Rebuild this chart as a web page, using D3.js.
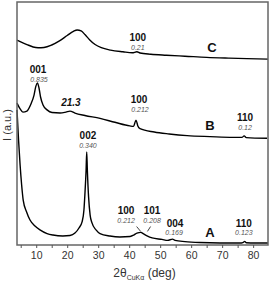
<!DOCTYPE html>
<meta charset="utf-8">
<html>
<head>
  <style>
  body { margin: 0; background: #fff; }
  text { font-family: Arial, "Liberation Sans", sans-serif; }
  text.hkl { font-size: 10px; font-weight: bold; fill: #111; }
  text.dsp { font-size: 7px; font-style: italic; fill: #555; }
  text.tag { font-size: 13px; font-weight: bold; fill: #111; }
  .axis text { font-size: 10.5px; fill: #333; }
  .axis path, .axis line { stroke: #555; }
  </style>
  <script src="https://d3js.org/d3.v7.min.js"></script>
</head>
<body>
<div id="chart"></div>
<script>
// 2theta (deg) / intensity (a.u.) for the three samples
var curveC = [[3.8,84.3],[5,83.6],[7,82.5],[9,81.5],[10.6,81.2],[12.5,81.3],[15,82.3],[17.5,84],[20,86.2],[22,87.9],[23.2,88.5],[24.5,88.1],[25.8,86.5],[27.2,84.5],[29,82.5],[31,81.2],[34,80.2],[38,79.5],[41,79.1],[42.5,79.5],[43.5,79],[47,78.5],[52,78.1],[58,77.7],[65,77.2],[72,76.9],[78,76.7],[84.8,76.5]];
var curveB = [[3.8,58.4],[4.8,56],[5.7,54.7],[7,55.1],[8.3,58],[9.3,61.7],[9.9,65.4],[10.4,66.7],[10.9,64.6],[11.4,60.9],[12.2,57.6],[13.5,55.6],[15.1,54.5],[17.7,54.3],[19.6,54.7],[20.9,55.1],[22.5,54.3],[25.7,53.3],[30.6,52.1],[35.4,50.5],[40.2,49],[41.4,48.8],[42.2,51.4],[42.8,49],[43.5,47.9],[48.1,46.5],[52.9,45.7],[58.7,45],[66.1,44.6],[73.5,44.3],[76.4,44.3],[77.1,44.9],[77.8,44.2],[84.5,43.9]];
var curveA = [[3.8,55.6],[4.3,43.2],[4.8,32.9],[5.3,24.7],[5.8,18.5],[6.9,13.6],[8,10.3],[9.6,7.8],[11.2,6.2],[13.5,4.7],[15.4,4.1],[18.6,3.7],[20.9,3.9],[22.5,4.9],[23.8,7],[24.8,9.5],[25.4,14.4],[25.7,20.6],[26.1,30.9],[26.3,38.3],[26.5,30.9],[26.9,19.8],[27.4,12.3],[28,9.1],[29.3,6.2],[30.6,4.7],[33.8,3.7],[37,3.3],[40.3,3.5],[41.5,4.1],[42.5,4.9],[43.8,5.2],[44.5,4.7],[45.6,3.9],[47.4,2.9],[50.6,2.3],[52.4,1.9],[54,2.4],[54.8,1.9],[58,1.4],[62.8,1],[69.3,0.8],[75.7,0.8],[76.7,1],[77.3,1.5],[77.8,0.9],[80.6,0.8],[84.8,0.8]];

// peak annotations: [deg, intensity, text, kind]
var notes = [
  [42.8,85.4,"100","hkl"],[42.8,81.3,"0.21","dsp"],[66.7,81.1,"C","tag"],
  [10.6,72.2,"001","hkl"],[10.9,68.1,"0.835","dsp"],[21.2,58.8,"21.3","hkl it"],
  [43.2,59.9,"100","hkl"],[43.5,55.8,"0.212","dsp"],[66.1,49,"B","tag"],
  [77.4,52.5,"110","hkl"],[77.4,48.4,"0.12","dsp"],
  [26.7,45.1,"002","hkl"],[26.7,41,"0.340","dsp"],
  [39,14.3,"100","hkl"],[39,10.2,"0.212","dsp"],
  [47.4,14.3,"101","hkl"],[47.4,10.2,"0.208","dsp"],
  [54.8,8.9,"004","hkl"],[54.5,5,"0.169","dsp"],[66.1,5.3,"A","tag"],
  [77,8.9,"110","hkl"],[77,5,"0.123","dsp"]
];
var leaders = [[[42.4,7.6],[43.7,5.6]],[[45.9,5.6],[46.9,7.6]]];

var xTicks = d3.range(5, 85, 5);

var W = 270, H = 285;
var margin = {left: 17, right: 2, top: 2, bottom: 40};

var svg = d3.select("#chart").append("svg")
  .attr("width", W).attr("height", H);

var x = d3.scaleLinear().domain([3.8, 84.8]).range([margin.left, W - margin.right]);
var y = d3.scaleLinear().domain([0, 100]).range([H - margin.bottom, margin.top]);

var line = d3.line()
  .x(function(d) { return x(d[0]); })
  .y(function(d) { return y(d[1]); })
  .curve(d3.curveMonotoneX);

[curveA, curveB, curveC].forEach(function(c) {
  svg.append("path").datum(c)
    .attr("d", line)
    .attr("fill", "none")
    .attr("stroke", "#000")
    .attr("stroke-width", 1.4);
});

// frame
svg.append("rect")
  .attr("x", x.range()[0]).attr("y", y.range()[1])
  .attr("width", x.range()[1] - x.range()[0])
  .attr("height", y.range()[0] - y.range()[1])
  .attr("fill", "none").attr("stroke", "#666").attr("stroke-width", 1.5);

var xAxis = svg.append("g")
  .attr("class", "axis")
  .attr("transform", "translate(0," + y.range()[0] + ")")
  .call(d3.axisBottom(x).tickValues(xTicks).tickSize(3).tickPadding(4)
    .tickFormat(function(d) { return d % 10 == 0 ? d : ""; }));
xAxis.select(".domain").remove();

svg.selectAll(".note")
  .data(notes)
  .enter().append("text")
  .attr("class", function(d) { return d[3]; })
  .attr("x", function(d) { return x(d[0]); })
  .attr("y", function(d) { return y(d[1]); })
  .attr("dy", "0.35em")
  .style("text-anchor", "middle")
  .style("font-style", function(d) { return d[3] == "hkl it" ? "italic" : null; })
  .text(function(d) { return d[2]; });

svg.selectAll(".leader")
  .data(leaders)
  .enter().append("line")
  .attr("x1", function(d) { return x(d[0][0]); })
  .attr("y1", function(d) { return y(d[0][1]); })
  .attr("x2", function(d) { return x(d[1][0]); })
  .attr("y2", function(d) { return y(d[1][1]); })
  .attr("stroke", "#111").attr("stroke-width", 0.8);

// axis titles
var xt = svg.append("text")
  .attr("x", (x.range()[0] + x.range()[1]) / 2 + 2)
  .attr("y", 277)
  .style("text-anchor", "middle")
  .style("font-size", "12px").style("fill", "#333");
xt.append("tspan").text("2θ");
xt.append("tspan").attr("dy", 3).style("font-size", "7px").text("CuKα");
xt.append("tspan").attr("dy", -3).text(" (deg)");

svg.append("text")
  .attr("transform", "translate(11,125) rotate(-90)")
  .style("text-anchor", "middle")
  .style("font-size", "11px").style("fill", "#333")
  .text("I (a.u.)");
</script>
</body>
</html>
